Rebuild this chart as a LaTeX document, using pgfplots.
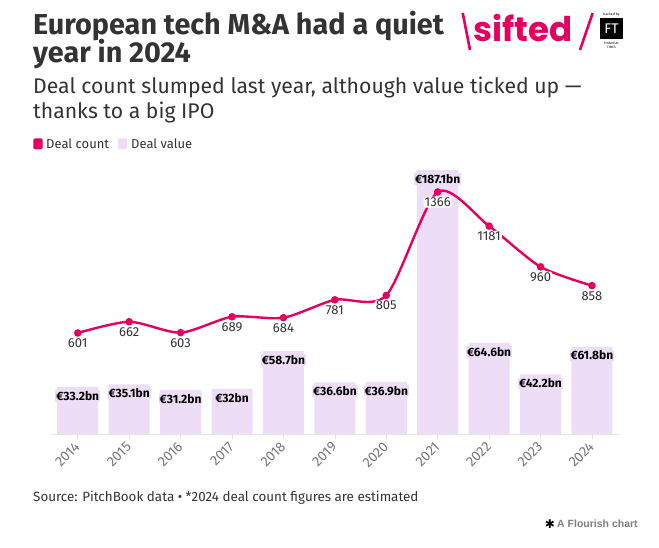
\documentclass[border=0pt]{standalone}
\usepackage{pgfplots}
\pgfplotsset{compat=1.18}
\usepackage{pgfplotstable}
\usepackage{fontspec}
\setmainfont{Fira Sans}
\newfontfamily\popfont{Poppins}
\newfontfamily\arialfont{Liberation Sans}
\newfontfamily\djfont{DejaVu Sans}
\definecolor{pinkc}{HTML}{E3005F}
\definecolor{lav}{HTML}{EDDDF6}
\definecolor{txt}{HTML}{333333}
\definecolor{tickc}{HTML}{777777}

\pgfplotstableread{
x v lab
0 33.2 €33.2bn
1 35.1 €35.1bn
2 31.2 €31.2bn
3 32 €32bn
4 58.7 €58.7bn
5 36.6 €36.6bn
6 36.9 €36.9bn
7 187.1 €187.1bn
8 64.6 €64.6bn
9 42.2 €42.2bn
10 61.8 €61.8bn
}\bars

\pgfplotstableread{
x c lab
0 601 601
1 662 662
2 603 603
3 689 689
4 684 684
5 781 781
6 805 805
7 1366 1366
8 1181 1181
9 960 960
10 858 858
}\counts

\begin{document}
\begin{tikzpicture}[x=1pt,y=1pt]
\path[use as bounding box] (0,0) rectangle (659pt,548pt);

% title
\node[anchor=base west, inner sep=0, text=txt, font=\fontsize{28.8}{28.8}\selectfont\bfseries] at (33pt,{548pt-35pt}) {European tech M\&A had a quiet};
\node[anchor=base west, inner sep=0, text=txt, font=\fontsize{28.8}{28.8}\selectfont\bfseries] at (33pt,{548pt-63pt}) {year in 2024};
\node[anchor=base west, inner sep=0, text=txt, font=\fontsize{21.2}{21.2}\selectfont] at (33pt,{548pt-94pt}) {Deal count slumped last year, although value ticked up —};
\node[anchor=base west, inner sep=0, text=txt, font=\fontsize{21.2}{21.2}\selectfont] at (33pt,{548pt-119pt}) {thanks to a big IPO};

% legend
\fill[pinkc, rounded corners=2pt] (33.3pt,{548pt-149.3pt}) rectangle (42.7pt,{548pt-138.3pt});
\node[anchor=west, inner sep=0, text=txt, font=\fontsize{13}{13}\selectfont] at (46pt,{548pt-143.8pt}) {Deal count};
\fill[lav, rounded corners=2pt] (118pt,{548pt-149.3pt}) rectangle (127pt,{548pt-138.3pt});
\node[anchor=west, inner sep=0, text=txt, font=\fontsize{13}{13}\selectfont] at (131pt,{548pt-143.8pt}) {Deal value};

% logo
\draw[pinkc, line width=2.6pt] (462.7pt,{548pt-13pt}) -- (470pt,{548pt-50pt});
\node[anchor=base west, inner sep=0, text=pinkc, font=\popfont\fontsize{34}{34}\selectfont\bfseries] at (473pt,{548pt-41.7pt}) {sifted};
\draw[pinkc, line width=2.6pt] (592.7pt,{548pt-13pt}) -- (580pt,{548pt-50pt});
\node[anchor=base, inner sep=0, font=\fontsize{3.5}{3.5}\selectfont] at (611.5pt,{548pt-16pt}) {backed by};
\fill[black] (600pt,{548pt-39.5pt}) rectangle (623pt,{548pt-18.5pt});
\node[text=white, inner sep=0, font=\fontsize{14}{14}\selectfont] at (611.5pt,{548pt-29pt}) {FT};
\node[anchor=base, inner sep=0, font=\fontsize{3.2}{3.2}\selectfont] at (611.5pt,{548pt-44.5pt}) {FINANCIAL};
\node[anchor=base, inner sep=0, font=\fontsize{3.2}{3.2}\selectfont] at (611.5pt,{548pt-49pt}) {TIMES};

% bars
\begin{axis}[
  at={(51pt,114pt)}, anchor=south west,
  scale only axis, width=567.7pt, height=274pt,
  xmin=-0.52, xmax=10.52, ymin=0, ymax=194.3,
  axis x line*=bottom, axis y line=none,
  x axis line style={-, draw=black!10, line width=0.8pt},
  xtick={0,...,10},
  xticklabels={2014,2015,2016,2017,2018,2019,2020,2021,2022,2023,2024},
  tick align=outside, major tick length=5pt,
  xtick style={draw=black!12, line width=0.6pt},
  ytick=\empty,
  xticklabel shift=5pt,
  xticklabel style={font=\fontsize{14}{14}\selectfont, text=tickc, rotate=45, anchor=east, inner sep=0.5pt},
  /pgf/number format/assume math mode=true,
  clip=false,
]
\addplot[ybar, bar width=41pt, fill=lav, draw=none,
  nodes near coords, point meta=explicit symbolic,
  every node near coord/.append style={anchor=center, yshift=-8.7pt, fill=lav, inner sep=1pt, text=black, font=\fontsize{12}{12}\selectfont\bfseries}]
  table[x=x, y=v, meta=lab] {\bars};
\end{axis}

% line
\begin{axis}[
  at={(51pt,114pt)}, anchor=south west,
  scale only axis, width=567.7pt, height=274pt,
  xmin=-0.52, xmax=10.52, ymin=53, ymax=1539.7,
  hide axis, clip=false,
]
\addplot[pinkc, line width=2.4pt, smooth, tension=0.45, mark=*, mark size=2.5pt, mark options={fill=pinkc, draw=none},
  nodes near coords, point meta=explicit symbolic,
  every node near coord/.append style={anchor=north, yshift=-3.5pt, fill=white, rounded corners=2pt, inner sep=1pt, text=txt, font=\fontsize{13}{13}\selectfont}]
  table[x=x, y=c, meta=lab] {\counts};
\end{axis}

% footer
\node[anchor=base west, inner sep=0, text=txt, font=\fontsize{13.4}{13.4}\selectfont] at (33pt,{548pt-502pt}) {Source: PitchBook data • *2024 deal count figures are estimated};
\node[anchor=east, inner sep=0, text=black, font=\djfont\fontsize{12}{12}\selectfont] at (555pt,{548pt-524pt}) {✱};
\node[anchor=west, inner sep=0, text=black!50, font=\arialfont\fontsize{10.5}{10.5}\selectfont\bfseries] at (557pt,{548pt-524pt}) {A Flourish chart};
\end{tikzpicture}
\end{document}
